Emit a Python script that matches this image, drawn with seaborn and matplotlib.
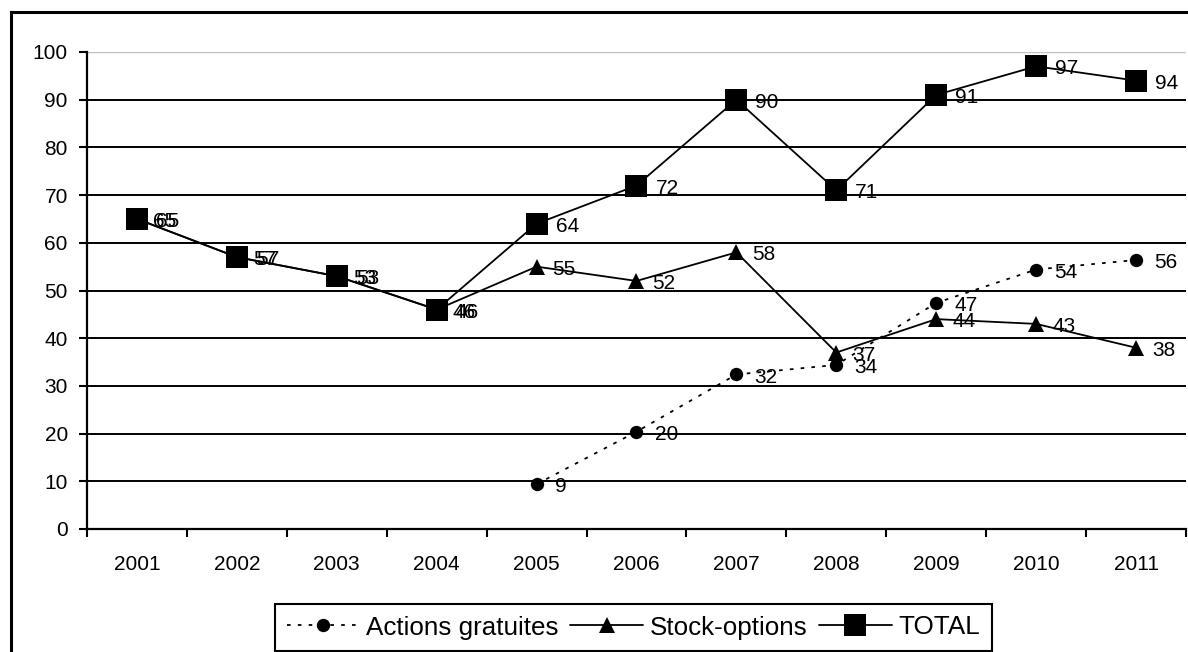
import numpy as np
import pandas as pd
import matplotlib
matplotlib.use("Agg")
import matplotlib.pyplot as plt
from matplotlib.lines import Line2D
import seaborn as sns

# ---- data ----
years = [2001, 2002, 2003, 2004, 2005, 2006, 2007, 2008, 2009, 2010, 2011]
total = [65, 57, 53, 46, 64, 72, 90, 71, 91, 97, 94]
stock_options = [65, 57, 53, 46, 55, 52, 58, 37, 44, 43, 38]
actions_years = [2005, 2006, 2007, 2008, 2009, 2010, 2011]
actions_gratuites = [9.4, 20.4, 32.4, 34.4, 47.4, 54.4, 56.4]
y_ticks = [0, 10, 20, 30, 40, 50, 60, 70, 80, 90, 100]
series_names = ["Actions gratuites", "Stock-options", "TOTAL"]

sns.set_style("white")
plt.rcParams["font.family"] = ["Liberation Sans", "DejaVu Sans"]
plt.rcParams["text.color"] = "black"
plt.rcParams["xtick.color"] = "black"
plt.rcParams["ytick.color"] = "black"

W, H, DPI = 1188, 652, 100
fig = plt.figure(figsize=(W / DPI, H / DPI), dpi=DPI)
fig.patch.set_facecolor("white")
ax = fig.add_axes([87 / W, 1 - 529 / H, (1186 - 87) / W, (529 - 52) / H])

LW = 1.3
sns.lineplot(x=actions_years, y=actions_gratuites, ax=ax, color="black", lw=LW,
             linestyle=(0, (2, 4)), marker="o", markersize=9.6,
             markeredgecolor="black", markeredgewidth=0, errorbar=None,
             label=series_names[0])
sns.lineplot(x=years, y=stock_options, ax=ax, color="black", lw=LW,
             marker="^", markersize=11, markeredgecolor="black",
             markeredgewidth=0, errorbar=None, label=series_names[1])
sns.lineplot(x=years, y=total, ax=ax, color="black", lw=LW,
             marker="s", markersize=15.8, markeredgecolor="black",
             markeredgewidth=0, errorbar=None, label=series_names[2])

# data labels
lab_kw = dict(textcoords="offset points", ha="left", va="baseline",
              fontsize=15, color="black")
for x, v in zip(actions_years, actions_gratuites):
    ax.annotate(f"{v:.0f}", (x, v), xytext=(13, -5.8), **lab_kw)
for x, v in zip(years, stock_options):
    ax.annotate(f"{v:.0f}", (x, v), xytext=(11.5, -5.8), **lab_kw)
for x, v in zip(years, total):
    ax.annotate(f"{v:.0f}", (x, v), xytext=(13.7, -5.8), **lab_kw)

# axes
ax.set_xlim(years[0] - 0.5, years[-1] + 0.5)
ax.set_ylim(0, 100)
ax.set_xticks(years)
ax.set_xticklabels([str(y) for y in years])
ax.set_xticks(np.arange(years[0] - 0.5, years[-1] + 1, 1), minor=True)
ax.set_yticks(y_ticks)
ax.set_yticklabels([str(t) for t in y_ticks])
ax.set_xlabel("")
ax.set_ylabel("")
ax.tick_params(axis="x", which="major", length=0, pad=18.5, labelsize=15)
ax.tick_params(axis="x", which="minor", length=5.8, width=1.5,
               direction="out", color="black", bottom=True)
ax.tick_params(axis="y", which="major", length=5.8, width=1.5,
               direction="out", color="black", pad=8, labelsize=15, left=True)

ax.set_axisbelow(True)
ax.yaxis.grid(True, color="black", lw=1.4)
ax.xaxis.grid(False)
glines = ax.get_ygridlines()
glines[-1].set_color("#c0c0c0")
glines[-1].set_linewidth(1.0)

for s in ["left", "bottom"]:
    ax.spines[s].set_color("black")
    ax.spines[s].set_linewidth(1.6)
    ax.spines[s].set_visible(True)
ax.spines["top"].set_visible(False)
ax.spines["right"].set_visible(False)

# legend
handles, labels = ax.get_legend_handles_labels()
if ax.get_legend() is not None:
    ax.get_legend().remove()
leg = fig.legend(handles, labels, loc="center",
                 bbox_to_anchor=(633.5 / W, 1 - 627.5 / H), ncol=3,
                 frameon=True, fancybox=False, shadow=False,
                 edgecolor="black", framealpha=1, fontsize=18.7,
                 handlelength=2.8, handletextpad=0.25,
                 columnspacing=0.45, borderpad=0.45)
leg.get_frame().set_linewidth(1.5)

# outer chart border (top and left visible)
fig.add_artist(Line2D([11 / W, 1], [1 - 12 / H, 1 - 12 / H],
                      transform=fig.transFigure, color="black", lw=2.2,
                      solid_capstyle="projecting"))
fig.add_artist(Line2D([11 / W, 11 / W], [0, 1 - 12 / H],
                      transform=fig.transFigure, color="black", lw=2.2,
                      solid_capstyle="projecting"))

fig.savefig("out.png", dpi=DPI, facecolor="white")
